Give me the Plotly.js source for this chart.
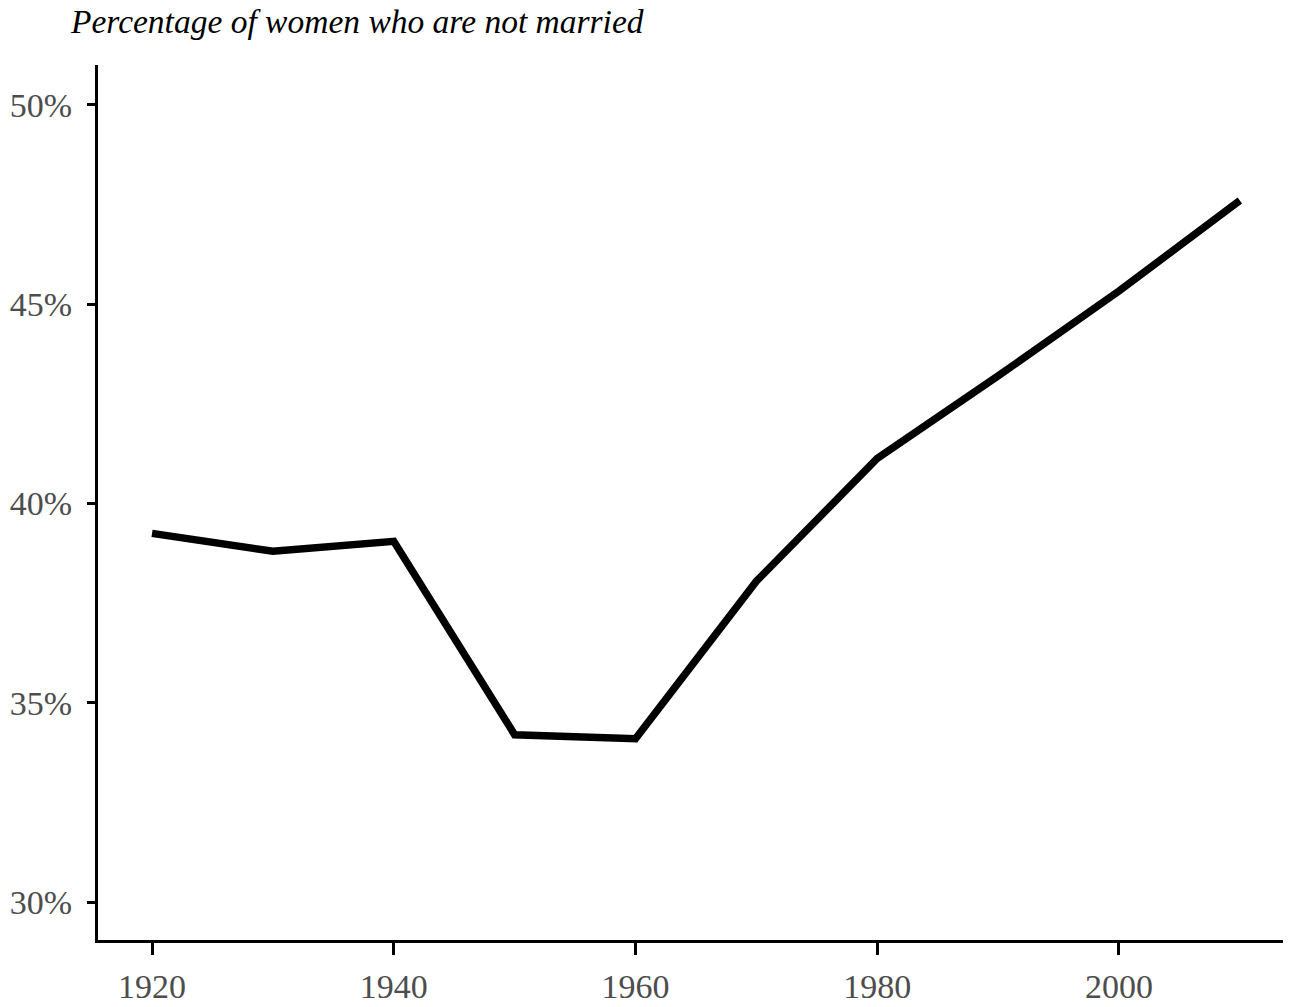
<!DOCTYPE html>
<html>
<head>
<meta charset="utf-8">
<script src="https://cdn.plot.ly/plotly-3.0.1.min.js"></script>
<style>
  html, body { margin: 0; padding: 0; background: #fff; }
  #chart { width: 1296px; height: 1007px; }
</style>
</head>
<body>
<div id="chart"></div>
<script>
// decade and share of women not married (%)
var years = [1920, 1930, 1940, 1950, 1960, 1970, 1980, 1990, 2000, 2010];
var notMarried = [39.25, 38.8, 39.05, 34.2, 34.1, 38.05, 41.13, 43.2, 45.33, 47.6];

var yTicks = [30, 35, 40, 45, 50];
var yTickText = ['30%', '35%', '40%', '45%', '50%'];
var xTicks = [1920, 1940, 1960, 1980, 2000];

var serif = '"Liberation Serif", "DejaVu Serif", serif';

var trace = {
  x: years,
  y: notMarried,
  type: 'scatter',
  mode: 'lines',
  line: { color: '#000000', width: 7.5 },
  hoverinfo: 'skip'
};

var layout = {
  width: 1296,
  height: 1007,
  margin: { l: 98, r: 13, t: 65, b: 67, pad: 0 },
  paper_bgcolor: '#ffffff',
  plot_bgcolor: '#ffffff',
  showlegend: false,
  annotations: [{
    text: '<i>Percentage of women who are not married</i>',
    font: { family: serif, size: 33.5, color: '#000000' },
    xref: 'paper', x: -30 / 1185, xanchor: 'left',
    yref: 'paper', y: 1 + 44 / 875, yanchor: 'middle',
    showarrow: false
  }],
  xaxis: {
    range: [1915.53, 2013.57],
    tickvals: xTicks,
    ticktext: xTicks.map(String),
    showgrid: false,
    zeroline: false,
    showline: true,
    linecolor: '#000000',
    linewidth: 3,
    ticks: 'outside',
    ticklen: 12,
    tickwidth: 3,
    tickcolor: '#000000',
    ticklabelstandoff: 2,
    tickfont: { family: serif, size: 34, color: '#4d4d4d' }
  },
  yaxis: {
    range: [29.05, 51.0],
    tickvals: yTicks,
    ticktext: yTickText,
    showgrid: false,
    zeroline: false,
    showline: true,
    linecolor: '#000000',
    linewidth: 3,
    ticks: 'outside',
    ticklen: 8,
    tickwidth: 3,
    tickcolor: '#000000',
    ticklabelstandoff: 8,
    tickfont: { family: serif, size: 34, color: '#4d4d4d' }
  }
};

Plotly.newPlot('chart', [trace], layout, { displayModeBar: false, staticPlot: true });
</script>
</body>
</html>
